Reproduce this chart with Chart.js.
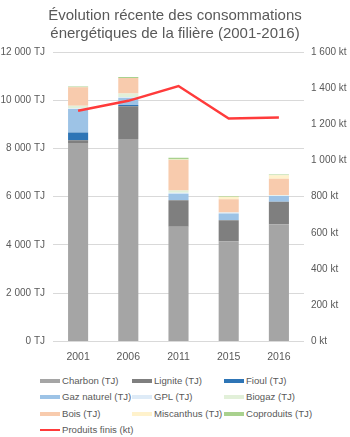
<!DOCTYPE html>
<html lang="fr">
<head>
<meta charset="utf-8">
<script src="https://cdn.jsdelivr.net/npm/chart.js@4.4.1/dist/chart.umd.min.js"></script>
<style>
  html, body { margin: 0; padding: 0; background: #fff; }
  #wrap { position: relative; width: 350px; height: 437px; font-family: 'Liberation Sans', Arial, sans-serif; }
  #box { position: absolute; left: 0; top: 0; width: 350px; height: 372px; }
  #legende { position: absolute; left: 40px; top: 373px; width: 300px; }
  .item { position: absolute; font-size: 9.6px; color: #595959; white-space: nowrap; line-height: 16px; }
  .item span.patch { position: absolute; left: 0; width: 20px; }
  .item span.txt { position: absolute; left: 22px; top: 0; }
</style>
</head>
<body>
<div id="wrap">
  <div id="box"><canvas id="graph"></canvas></div>
  <div id="legende"></div>
</div>
<script>
//Catégories (années)
const annees = ['2001', '2006', '2011', '2015', '2016'];

//Consommations énergétiques (TJ)
const charbon = [8230, 8390, 4750, 4150, 4860];
const lignite = [110, 1360, 1100, 870, 930];
const fioul = [320, 55, 0, 0, 0];
const gazNaturel = [975, 290, 270, 280, 240];
const gpl = [30, 40, 40, 40, 20];
const biogaz = [110, 140, 100, 0, 20];
const bois = [760, 650, 1260, 550, 675];
const miscanthus = [0, 0, 20, 110, 140];
const coproduits = [30, 40, 80, 30, 40];

//Produits finis (kt)
const produitsFinis = [1275, 1330, 1412, 1232, 1238];

//Graduations des axes
const ticksTJ = [0, 2000, 4000, 6000, 8000, 10000, 12000];
const ticksKt = [0, 200, 400, 600, 800, 1000, 1200, 1400, 1600];

const gris = '#595959';
const police = "'Liberation Sans', Arial, sans-serif";

function milliers(v) {
  return String(v).replace(/\B(?=(\d{3})+(?!\d))/g, ' ');
}

function serieBarre(label, data, couleur) {
  return {
    type: 'bar',
    label,
    data,
    backgroundColor: couleur,
    borderWidth: 0,
    yAxisID: 'y',
    stack: 'energie',
    order: 1,
    barPercentage: 0.8,
    categoryPercentage: 0.5
  };
}

const datasets = [
  serieBarre('Charbon (TJ)', charbon, '#a5a5a5'),
  serieBarre('Lignite (TJ)', lignite, '#7f7f7f'),
  serieBarre('Fioul (TJ)', fioul, '#2e75b6'),
  serieBarre('Gaz naturel (TJ)', gazNaturel, '#9dc3e6'),
  serieBarre('GPL (TJ)', gpl, '#deebf7'),
  serieBarre('Biogaz (TJ)', biogaz, '#e2f0d9'),
  serieBarre('Bois (TJ)', bois, '#f8cbad'),
  serieBarre('Miscanthus (TJ)', miscanthus, '#fff2cc'),
  serieBarre('Coproduits (TJ)', coproduits, '#a9d18e'),
  {
    type: 'line',
    label: 'Produits finis (kt)',
    data: produitsFinis,
    borderColor: '#ff3b3b',
    backgroundColor: '#ff3b3b',
    borderWidth: 2.5,
    pointRadius: 0,
    tension: 0,
    fill: false,
    yAxisID: 'y1',
    order: 0
  }
];

const chart = new Chart(document.getElementById('graph'), {
  data: { labels: annees, datasets },
  options: {
    responsive: true,
    maintainAspectRatio: false,
    animation: false,
    layout: { padding: { top: 4, bottom: 0, left: 0, right: 0 } },
    plugins: {
      legend: { display: false },
      tooltip: { enabled: false },
      title: {
        display: true,
        text: ['Évolution récente des consommations', 'énergétiques de la filière (2001-2016)'],
        color: gris,
        font: { family: police, size: 15, weight: 'normal', lineHeight: 1.2 },
        padding: { top: 3, bottom: 9 }
      }
    },
    scales: {
      x: {
        stacked: true,
        grid: { display: false, drawTicks: false },
        border: { display: false },
        ticks: { color: gris, font: { family: police, size: 10.5 }, padding: 9 }
      },
      y: {
        stacked: true,
        position: 'left',
        min: 0,
        max: 12000,
        afterBuildTicks: s => { s.ticks = ticksTJ.map(v => ({ value: v })); },
        afterFit: s => { s.width = 53; },
        grid: { color: '#d9d9d9', lineWidth: 1, drawTicks: false },
        border: { display: false },
        ticks: {
          color: gris,
          font: { family: police, size: 10 },
          padding: 8,
          callback: v => milliers(v) + ' TJ'
        }
      },
      y1: {
        position: 'right',
        min: 0,
        max: 1600,
        afterBuildTicks: s => { s.ticks = ticksKt.map(v => ({ value: v })); },
        afterFit: s => { s.width = 46; },
        grid: { display: false, drawTicks: false },
        border: { display: false },
        ticks: {
          color: gris,
          font: { family: police, size: 10 },
          padding: 7,
          callback: v => milliers(v) + ' kt'
        }
      }
    }
  }
});

//Légende HTML en grille de 3 colonnes
const legende = document.getElementById('legende');
chart.data.datasets.forEach((ds, i) => {
  const col = i % 3;
  const row = Math.floor(i / 3);
  const item = document.createElement('div');
  item.className = 'item';
  item.style.left = (col * 92) + 'px';
  item.style.top = (row * 16.3) + 'px';
  const patch = document.createElement('span');
  patch.className = 'patch';
  const estLigne = ds.type === 'line';
  patch.style.height = estLigne ? '2px' : '4px';
  patch.style.top = estLigne ? '7px' : '6px';
  patch.style.background = estLigne ? ds.borderColor : ds.backgroundColor;
  const txt = document.createElement('span');
  txt.className = 'txt';
  txt.textContent = ds.label;
  item.appendChild(patch);
  item.appendChild(txt);
  legende.appendChild(item);
});
</script>
</body>
</html>
